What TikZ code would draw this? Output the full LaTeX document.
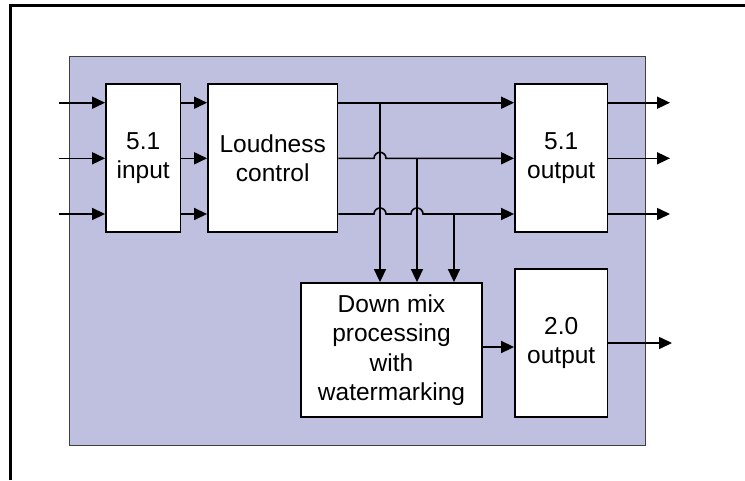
\documentclass[tikz,border=0pt]{standalone}
\usepackage{fontspec}
\setmainfont{Liberation Sans}
\usetikzlibrary{arrows.meta}
\definecolor{panel}{RGB}{191,192,223}
\tikzset{
  blk/.style={draw=black, line width=1.8pt, fill=white, align=center,
    font=\fontsize{24.5}{29.5}\selectfont, inner sep=0pt},
  wire/.style={line width=1.6pt},
  arr/.style={wire, -{Triangle[length=13pt,width=12pt]}},
}
\begin{document}
\begin{tikzpicture}[x=1pt,y=-1pt]
  \useasboundingbox (0,0) rectangle (745,480);
  % outer frame
  \draw[line width=3pt] (10.7,480) -- (10.7,5.3) -- (745,5.3);
  % shaded panel
  \draw[fill=panel, draw=black!75, line width=1pt] (69,56) rectangle (645,445);

  % blocks
  \node[blk, minimum width=74.5pt, minimum height=148pt] (in)    at (143.25,158) {5.1\\input};
  \node[blk, minimum width=129.5pt, minimum height=148pt] (loud) at (272.75,158) {Loudness\\control};
  \node[blk, minimum width=92.5pt, minimum height=148pt] (out51) at (561.25,158) {5.1\\output};
  \node[blk, minimum width=181pt, minimum height=134pt] (dm)     at (391.5,350) {Down mix\\processing\\with\\watermarking};
  \node[blk, minimum width=92.5pt, minimum height=148pt] (out20) at (561.25,343) {2.0\\output};

  % channel rows
  \coordinate (r1) at (0,102.7);
  \coordinate (r2) at (0,158.3);
  \coordinate (r3) at (0,214);
  % free ends
  \coordinate (src) at (59,0);
  \coordinate (dst) at (670,0);

  % inputs
  \foreach \r in {r1,r2,r3} {
    \draw[arr] (src |- \r) -- (in.west |- \r);
    \draw[arr] (in.east |- \r) -- (loud.west |- \r);
    \draw[arr] (out51.east |- \r) -- (dst |- \r);
  }

  % down-mix taps
  \coordinate (t1) at (380,102.7);
  \coordinate (t2) at (417,158.3);
  \coordinate (t3) at (454,214);

  % loudness control to 5.1 output, hopping over the taps
  \draw[arr] (loud.east |- r1) -- (out51.west |- r1);
  \draw[arr] (loud.east |- r2) -- ([xshift=-6pt]t1 |- r2)
     arc[start angle=180, end angle=0, radius=6pt] -- (out51.west |- r2);
  \draw[arr] (loud.east |- r3) -- ([xshift=-6pt]t1 |- r3)
     arc[start angle=180, end angle=0, radius=6pt] -- ([xshift=-6pt]t2 |- r3)
     arc[start angle=180, end angle=0, radius=6pt] -- (out51.west |- r3);

  \foreach \t in {t1,t2,t3}
    \draw[arr] (\t) -- (\t |- dm.north);

  % stereo path
  \coordinate (s1) at (0,347);
  \coordinate (s2) at (0,343);
  \draw[arr] (dm.east |- s1) -- (out20.west |- s1);
  \draw[arr] (out20.east |- s2) -- ([xshift=2pt]dst |- s2);
\end{tikzpicture}
\end{document}
